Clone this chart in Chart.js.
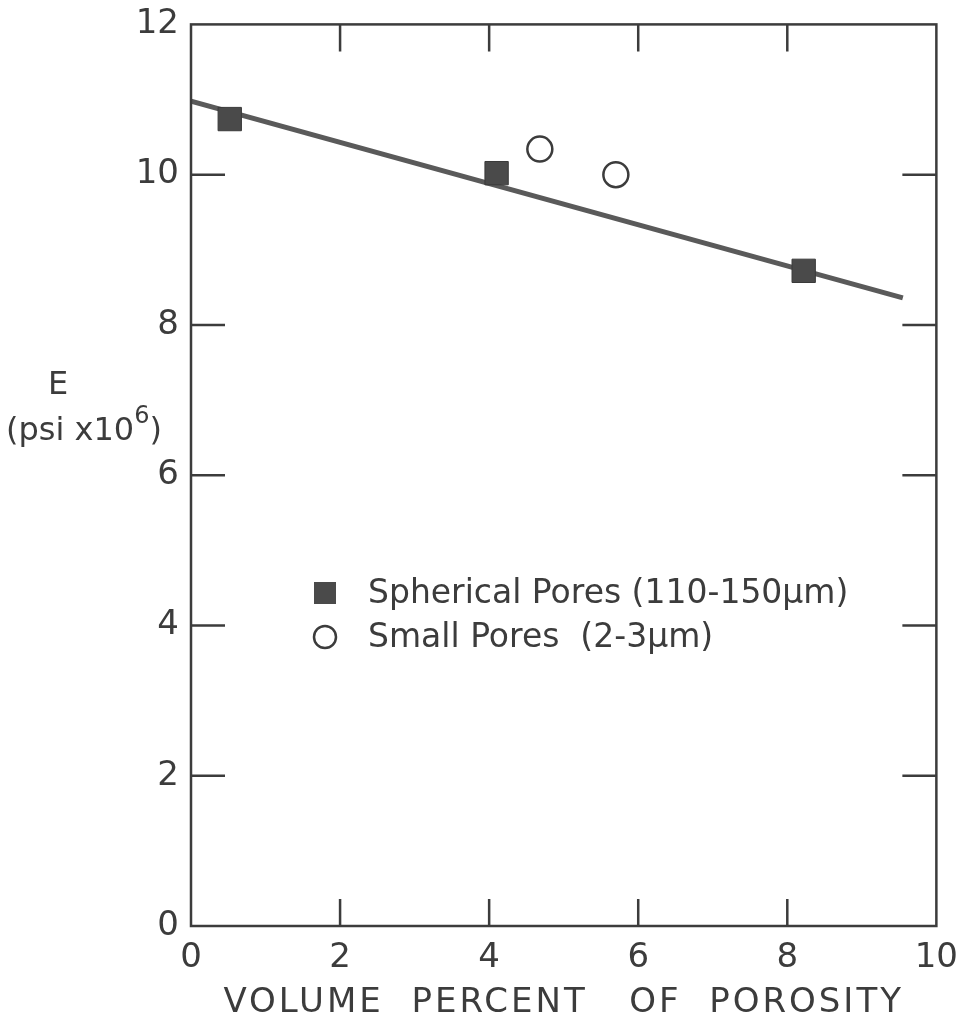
<!DOCTYPE html>
<html lang="en">
  <head>
    <meta charset="UTF-8" />
    <title>Young's modulus vs porosity</title>
    <script src="https://cdn.jsdelivr.net/npm/chart.js"></script>
    <style>
      html, body { margin: 0; padding: 0; background: #fff; }
      #wrap { width: 962px; height: 1029px; }
    </style>
  </head>
  <body>
    <div id="wrap"><canvas id="modulusChart"></canvas></div>
    <script>
      // data
      const porosityTicks = [0, 2, 4, 6, 8, 10];
      const modulusTicks = [0, 2, 4, 6, 8, 10, 12];
      const sphericalX = [0.52, 4.1, 8.22];
      const sphericalY = [10.74, 10.02, 8.72];
      const smallX = [4.68, 5.7];
      const smallY = [10.34, 10.0];
      const fitX = [0, 9.55];
      const fitY = [10.98, 8.36];
      const legendLabels = ["Spherical Pores (110-150\u03bcm)", "Small Pores  (2-3\u03bcm)"];
      const xTitle = "VOLUME  PERCENT   OF  POROSITY";

      const ink = "#3c3c3c";
      const FONT = "'DejaVu Sans', sans-serif";

      const pts = (xs, ys) => xs.map((x, i) => ({ x: x, y: ys[i] }));

      // frame, inward ticks, legend and the titles
      const decorPlugin = {
        id: "decor",
        afterDatasetsDraw(chart) {
          const ctx = chart.ctx;
          const a = chart.chartArea;
          const xs = chart.scales.x;
          const ys = chart.scales.y;
          ctx.save();
          ctx.strokeStyle = ink;
          ctx.lineWidth = 2.5;
          ctx.strokeRect(a.left, a.top, a.right - a.left, a.bottom - a.top);
          ctx.beginPath();
          porosityTicks.slice(1, -1).forEach((v) => {
            const px = xs.getPixelForValue(v);
            ctx.moveTo(px, a.bottom); ctx.lineTo(px, a.bottom - 27);
            ctx.moveTo(px, a.top); ctx.lineTo(px, a.top + 27);
          });
          modulusTicks.slice(1, -1).forEach((v) => {
            const py = ys.getPixelForValue(v);
            ctx.moveTo(a.left, py); ctx.lineTo(a.left + 34, py);
            ctx.moveTo(a.right, py); ctx.lineTo(a.right - 34, py);
          });
          ctx.stroke();

          // legend
          ctx.font = "33px " + FONT;
          ctx.textBaseline = "middle";
          ctx.fillStyle = "#4a4a4a";
          ctx.fillRect(314, 582, 22, 22);
          ctx.beginPath();
          ctx.lineWidth = 2.5;
          ctx.arc(325, 637, 11, 0, Math.PI * 2);
          ctx.stroke();
          ctx.fillStyle = ink;
          ctx.fillText(legendLabels[0], 368, 594);
          ctx.fillText(legendLabels[1], 368, 638);

          // x title, spaced out like the stencil lettering
          ctx.font = "34px " + FONT;
          ctx.letterSpacing = "3px";
          ctx.textAlign = "center";
          ctx.fillText(xTitle, (a.left + a.right) / 2, 1003);
          ctx.letterSpacing = "0px";

          // y title
          ctx.font = "32px " + FONT;
          ctx.fillText("E", 58, 386);
          ctx.textAlign = "left";
          ctx.fillText("(psi x10", 6, 432);
          const w = ctx.measureText("(psi x10").width;
          ctx.font = "24px " + FONT;
          ctx.fillText("6", 6 + w, 417);
          const w2 = ctx.measureText("6").width;
          ctx.font = "32px " + FONT;
          ctx.fillText(")", 6 + w + w2, 432);
          ctx.restore();
        },
      };

      const ctx = document.getElementById("modulusChart").getContext("2d");
      new Chart(ctx, {
        type: "scatter",
        data: {
          datasets: [
            {
              label: "fit",
              data: pts(fitX, fitY),
              showLine: true,
              borderColor: "#5a5a5a",
              borderWidth: 5,
              pointRadius: 0,
              order: 3,
            },
            {
              label: legendLabels[0],
              data: pts(sphericalX, sphericalY),
              pointStyle: "rect",
              pointRadius: 16.5,
              backgroundColor: "#4a4a4a",
              borderColor: "#3a3a3a",
              borderWidth: 1,
              order: 1,
            },
            {
              label: legendLabels[1],
              data: pts(smallX, smallY),
              pointStyle: "circle",
              pointRadius: 12.5,
              backgroundColor: "#fff",
              borderColor: ink,
              borderWidth: 2.5,
              order: 2,
            },
          ],
        },
        options: {
          responsive: true,
          maintainAspectRatio: false,
          animation: false,
          layout: { padding: { top: 16, right: 16, left: 0, bottom: 0 } },
          plugins: { legend: { display: false }, tooltip: { enabled: false } },
          scales: {
            x: {
              type: "linear",
              min: 0,
              max: 10,
              afterFit: (s) => { s.height = 103; },
              afterBuildTicks: (s) => { s.ticks = porosityTicks.map((v) => ({ value: v })); },
              grid: { display: false },
              border: { display: false },
              ticks: { color: ink, padding: 4, font: { family: FONT, size: 34 } },
            },
            y: {
              type: "linear",
              min: 0,
              max: 12,
              afterFit: (s) => { s.width = 191; },
              afterBuildTicks: (s) => { s.ticks = modulusTicks.map((v) => ({ value: v })); },
              grid: { display: false },
              border: { display: false },
              ticks: { color: ink, padding: 4, font: { family: FONT, size: 34 } },
            },
          },
        },
        plugins: [decorPlugin],
      });
    </script>
  </body>
</html>
